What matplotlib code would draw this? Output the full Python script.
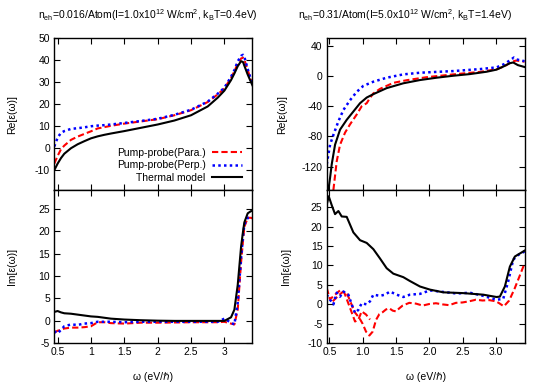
import matplotlib
matplotlib.use("Agg")
import matplotlib.pyplot as plt

plt.rcParams['font.family'] = ['Liberation Sans', 'DejaVu Sans']
plt.rcParams['mathtext.default'] = 'regular'
plt.rcParams['axes.unicode_minus'] = False

# ---------------- Left column: n_eh = 0.016 ----------------
omega_L = [0.45, 0.5, 0.55, 0.6, 0.7, 0.8, 0.9, 1.0, 1.1, 1.2, 1.3, 1.5, 1.75, 2.0,
           2.25, 2.5, 2.75, 2.9, 3.0, 3.1, 3.15, 3.2, 3.25, 3.28, 3.3, 3.35, 3.4, 3.43]
re_para_L = [-7, -3.5, -0.5, 1.2, 3.8, 5.3, 6.5, 7.7, 9.0, 9.6, 10.2, 11.2, 12.2, 13.2,
             15.0, 17.3, 21.0, 24.5, 27.2, 32.0, 35.0, 38.5, 40.8, 41.2, 40.2, 35.5, 31.0, 28.5]
re_perp_L = [0.8, 4.8, 7.0, 7.8, 8.8, 9.1, 9.5, 10.0, 10.3, 10.5, 10.8, 11.5, 12.4, 13.4,
             15.2, 17.5, 21.2, 24.8, 27.5, 32.5, 35.5, 39.5, 42.0, 42.5, 41.5, 36.0, 31.0, 28.5]
re_thermal_L = [-10, -7, -4.5, -2.5, 0.0, 1.8, 3.2, 4.5, 5.4, 6.1, 6.7, 7.8, 9.3, 10.8,
                12.6, 15.0, 19.0, 23.0, 26.2, 31.0, 34.0, 37.3, 39.6, 39.2, 37.5, 33.5, 30.0, 28.0]
im_para_L = [-2.6, -2.2, -2.0, -1.7, -1.5, -1.5, -1.4, -1.2, -0.3, -0.3, -0.5, -0.6, -0.4, -0.4,
             -0.35, -0.3, -0.3, -0.3, -0.2, -0.6, -0.8, 2.5, 13.0, 18.0, 21.0, 23.0, 23.0, 22.8]
im_perp_L = [-2.3, -2.8, -2.0, -1.2, -0.8, -0.9, -0.6, -0.5, -0.2, -0.2, -0.2, -0.3, -0.2, -0.2,
             -0.2, -0.2, -0.2, -0.2, 0.5, -0.4, -0.8, 4.0, 14.0, 19.0, 21.5, 23.0, 23.0, 23.0]
im_thermal_L = [2.0, 2.2, 1.9, 1.7, 1.6, 1.4, 1.2, 1.0, 0.9, 0.7, 0.5, 0.3, 0.15, 0.05,
                0.0, 0.0, 0.0, 0.0, 0.0, 0.8, 2.5, 8.0, 16.5, 20.0, 22.0, 24.0, 24.5, 24.5]

# ---------------- Right column: n_eh = 0.31 ----------------
omega_re_thermal_R = [0.485, 0.51, 0.535, 0.585, 0.66, 0.76, 0.86, 0.96, 1.06, 1.16, 1.36, 1.61,
                      1.86, 2.11, 2.36, 2.61, 2.86, 3.01, 3.11, 3.21, 3.26, 3.33, 3.43]
re_thermal_R = [-151, -135, -117, -91, -71, -58, -47, -36, -28.5, -24, -16, -9.6,
                -5.3, -2.2, 0.4, 2.6, 5.7, 8.5, 12.5, 17.0, 18.0, 14.5, 12.0]
omega_re_perp_R = [0.46, 0.51, 0.56, 0.635, 0.71, 0.81, 0.91, 1.01, 1.16, 1.36, 1.61, 1.86,
                   2.36, 2.76, 3.01, 3.13, 3.23, 3.27, 3.31, 3.43]
re_perp_R = [-117, -91, -78, -60, -45, -32, -21, -13, -7.5, -2.2, 2.2, 4.4,
             6.6, 9.2, 11.5, 16.0, 22.0, 24.5, 22.0, 19.7]
omega_re_para_R = [0.56, 0.61, 0.66, 0.735, 0.81, 0.91, 0.985, 1.06, 1.11, 1.16, 1.26, 1.46,
                   1.66, 1.96, 2.36, 2.76, 3.01, 3.13, 3.23, 3.3, 3.36, 3.43]
re_para_R = [-151, -113, -91, -75, -64, -51, -40, -36, -29, -23, -17, -9,
             -5.5, -1.5, 2.2, 5.5, 9.0, 13.0, 18.5, 20.5, 20.0, 19.0]

omega_im_thermal_R = [0.46, 0.49, 0.535, 0.585, 0.635, 0.685, 0.76, 0.81, 0.86, 0.96, 1.06, 1.16,
                      1.26, 1.36, 1.46, 1.61, 1.71, 1.86, 2.01, 2.21, 2.51, 2.81, 3.01, 3.06,
                      3.135, 3.21, 3.285, 3.43]
im_thermal_R = [25.6, 27.8, 25.5, 23.2, 24.0, 22.6, 22.5, 20.5, 18.5, 16.5, 15.8, 14.2,
                11.8, 9.3, 7.9, 7.0, 6.0, 4.6, 3.8, 3.1, 2.9, 2.5, 1.9, 2.0,
                4.6, 9.7, 12.3, 13.8]
omega_im_perp_R = [0.46, 0.51, 0.56, 0.61, 0.66, 0.71, 0.785, 0.835, 0.885, 0.935, 0.985, 1.06,
                   1.11, 1.16, 1.26, 1.335, 1.41, 1.51, 1.61, 1.71, 1.86, 2.01, 2.21, 2.41,
                   2.61, 2.81, 3.01, 3.11, 3.185, 3.26, 3.335, 3.43]
im_perp_R = [2.5, 1.2, 0.0, 3.0, 2.0, 3.3, 2.5, 0.0, -2.2, -1.4, 0.3, 0.0,
             0.8, 2.5, 2.2, 2.5, 3.3, 2.5, 1.9, 2.5, 2.7, 3.6, 3.2, 2.8,
             3.0, 2.2, 1.2, 1.4, 5.9, 11.5, 12.7, 13.6]
# the "Para." spectrum consists of two overlapping measured segments
omega_im_para_R_a = [0.46, 0.51, 0.585, 0.66, 0.72, 0.81, 0.885, 0.935, 0.985, 1.05, 1.11]
im_para_R_a = [4.2, 1.3, 2.5, 3.6, 3.2, -0.9, -4.4, -3.9, -1.8, -2.6, -3.9]
omega_im_para_R_b = [0.55, 0.62, 0.7, 0.76, 0.82, 0.88, 0.95, 1.0, 1.05, 1.1, 1.15, 1.2,
                     1.25, 1.3, 1.35, 1.4, 1.45, 1.5, 1.55, 1.6, 1.7, 1.8, 1.9, 2.0,
                     2.1, 2.2, 2.3, 2.4, 2.5, 2.6, 2.7, 2.8, 2.9, 3.0, 3.05, 3.12,
                     3.2, 3.28, 3.35, 3.43]
im_para_R_b = [0.8, 2.0, 3.2, 3.0, 0.5, -2.0, -3.5, -5.0, -7.0, -8.0, -7.0, -4.0,
               -2.5, -2.0, -1.3, -1.0, -1.6, -1.8, -1.0, -0.3, 0.4, 0.2, -0.3, 0.1,
               0.3, 0.0, -0.2, 0.4, 0.5, 0.8, 1.2, 1.0, 1.1, 0.8, 0.3, -0.5,
               1.0, 4.0, 7.0, 10.5]

labels = ['Pump-probe(Para.)', 'Pump-probe(Perp.)', 'Thermal model']
titles = [r'n$_{eh}$=0.016/Atom(I=1.0x10$^{12}$ W/cm$^{2}$, k$_{B}$T=0.4eV)',
          r'n$_{eh}$=0.31/Atom(I=5.0x10$^{12}$ W/cm$^{2}$, k$_{B}$T=1.4eV)']

FS = 7.5
red = dict(color='#ff0000', lw=1.5, ls=(0, (3, 1.5)))
blue = dict(color='#0000ff', lw=1.8, ls=(0, (1, 1.3)))
black = dict(color='black', lw=1.5, ls='-')

fig = plt.figure(figsize=(5.45, 3.82), dpi=100)
W = 0.3635
axUL = fig.add_axes([0.0996, 0.5026, W, 0.3971])
axLL = fig.add_axes([0.0996, 0.1013, W, 0.4013])
axUR = fig.add_axes([0.5995, 0.5026, W, 0.3971])
axLR = fig.add_axes([0.5995, 0.1013, W, 0.4013])

# left upper
axUL.plot(omega_L, re_para_L, label=labels[0], **red)
axUL.plot(omega_L, re_perp_L, label=labels[1], **blue)
axUL.plot(omega_L, re_thermal_L, label=labels[2], **black)
axUL.set_ylim(-19, 50)
axUL.set_yticks([-10, 0, 10, 20, 30, 40, 50])
axUL.legend(loc='lower right', bbox_to_anchor=(0.98, 0.005), frameon=False, markerfirst=False,
            fontsize=FS, handlelength=2.9, handletextpad=0.6, labelspacing=0.25,
            borderaxespad=0.2)

# left lower
axLL.plot(omega_L, im_para_L, **red)
axLL.plot(omega_L, im_perp_L, **blue)
axLL.plot(omega_L, im_thermal_L, **black)
axLL.set_ylim(-5, 29.2)
axLL.set_yticks([-5, 0, 5, 10, 15, 20, 25])

# right upper
axUR.plot(omega_re_para_R, re_para_R, **red)
axUR.plot(omega_re_perp_R, re_perp_R, **blue)
axUR.plot(omega_re_thermal_R, re_thermal_R, **black)
axUR.set_ylim(-151, 50)
axUR.set_yticks([-120, -80, -40, 0, 40])

# right lower
axLR.plot(omega_im_para_R_a, im_para_R_a, **red)
axLR.plot(omega_im_para_R_b, im_para_R_b, **red)
axLR.plot(omega_im_perp_R, im_perp_R, **blue)
axLR.plot(omega_im_thermal_R, im_thermal_R, **black)
axLR.set_ylim(-10, 29.4)
axLR.set_yticks([-10, -5, 0, 5, 10, 15, 20, 25])

xt = [0.5, 1.0, 1.5, 2.0, 2.5, 3.0]
for ax in (axUL, axLL):
    ax.set_xlim(0.45, 3.42)
    ax.set_xticks(xt)
for ax in (axUR, axLR):
    ax.set_xlim(0.46, 3.435)
    ax.set_xticks(xt)
axLL.set_xticklabels(['0.5', '1', '1.5', '2', '2.5', '3'])
axLR.set_xticklabels(['0.5', '1.0', '1.5', '2.0', '2.5', '3.0'])

for ax in (axUL, axLL, axUR, axLR):
    ax.tick_params(direction='in', length=4, width=0.8, top=True, right=True,
                   labelsize=FS, pad=3)
    for s in ax.spines.values():
        s.set_linewidth(1.0)
for ax in (axUL, axUR):
    ax.tick_params(labelbottom=False)

axUL.set_ylabel('Re[ε(ω)]', fontsize=FS)
axLL.set_ylabel('Im[ε(ω)]', fontsize=FS)
axUR.set_ylabel('Re[ε(ω)]', fontsize=FS)
axLR.set_ylabel('Im[ε(ω)]', fontsize=FS)
axUL.yaxis.set_label_coords(-0.19, 0.5)
axLL.yaxis.set_label_coords(-0.19, 0.5)
axUR.yaxis.set_label_coords(-0.2, 0.5)
axLR.yaxis.set_label_coords(-0.18, 0.5)

for ax in (axLL, axLR):
    ax.set_xlabel('ω (eV/ℏ)', fontsize=FS)
    ax.xaxis.set_label_coords(0.5, -0.19)

fig.text(0.2706, 0.961, titles[0], ha='center', va='center', fontsize=FS)
fig.text(0.743, 0.961, titles[1], ha='center', va='center', fontsize=FS)

fig.savefig('out.png', dpi=100)
